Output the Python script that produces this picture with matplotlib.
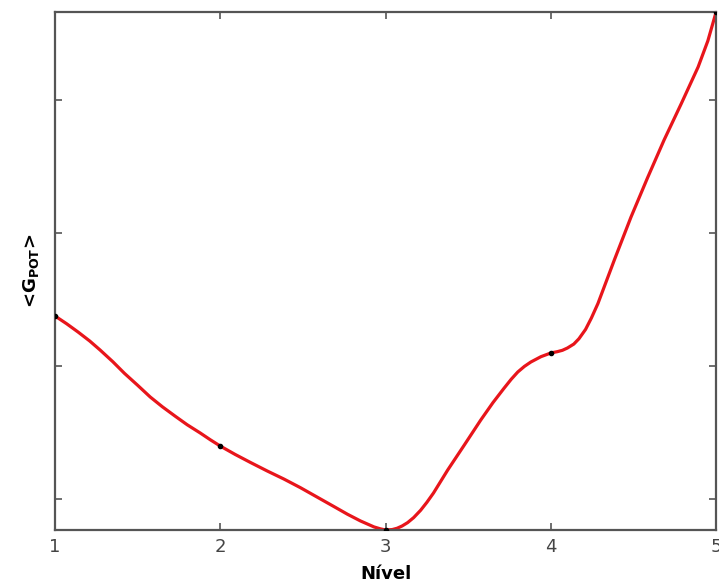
import matplotlib
matplotlib.use("Agg")
import matplotlib.pyplot as plt

# níveis e valores (escala arbitrária, eixo y sem rótulos)
niveis = [1, 2, 3, 4, 5]
g_pot = [2.376, 1.398, 0.767, 2.098, 4.662]

# curva suave
curva_x = [1.0, 1.07, 1.14, 1.21, 1.273, 1.35, 1.42, 1.50, 1.576, 1.65, 1.73, 1.80,
           1.879, 1.94, 2.0, 2.09, 2.182, 2.285, 2.385, 2.485, 2.585, 2.685, 2.77,
           2.848, 2.93, 2.97, 3.0, 3.04, 3.07, 3.10, 3.133, 3.17, 3.212, 3.25, 3.29,
           3.376, 3.476, 3.576, 3.65, 3.715, 3.76, 3.80, 3.84, 3.879, 3.94, 4.0,
           4.04, 4.07, 4.10, 4.139, 4.17, 4.21, 4.245, 4.285, 4.385, 4.485, 4.585,
           4.685, 4.79, 4.891, 4.95, 5.0]
curva_y = [2.376, 2.318, 2.255, 2.188, 2.120, 2.032, 1.945, 1.855, 1.767, 1.693, 1.620, 1.558,
           1.496, 1.445, 1.398, 1.335, 1.275, 1.210, 1.150, 1.085, 1.015, 0.945, 0.885,
           0.835, 0.790, 0.775, 0.767, 0.770, 0.780, 0.797, 0.822, 0.860, 0.915, 0.975, 1.045,
           1.218, 1.405, 1.594, 1.725, 1.830, 1.900, 1.955, 1.997, 2.030, 2.070, 2.098,
           2.108, 2.118, 2.135, 2.165, 2.205, 2.275, 2.360, 2.470, 2.800, 3.120, 3.415,
           3.699, 3.975, 4.248, 4.445, 4.662]

y_ticks = [1, 2, 3, 4]
x_ticks = [1, 2, 3, 4, 5]

fig = plt.figure(figsize=(7.19, 5.84), dpi=100)
ax = fig.add_axes([0.0765, 0.0925, 0.9195, 0.887])

ax.plot(curva_x, curva_y, color="#e8151b", linewidth=2.3, solid_capstyle="round",
        solid_joinstyle="round")
ax.plot(niveis, g_pot, linestyle="none", marker="o", markersize=3, color="black", zorder=3)

ax.set_xlim(1, 5)
ax.set_ylim(0.767, 4.662)
ax.set_xticks(x_ticks)
ax.set_yticks(y_ticks)
ax.set_yticklabels([])
ax.tick_params(direction="in", length=5, width=1.2, color="#555555",
               top=True, right=True, labelsize=13, labelcolor="#444444", pad=6)
for s in ax.spines.values():
    s.set_color("#555555")
    s.set_linewidth(1.6)

ax.set_xlabel("Nível", fontsize=13, fontweight="bold", labelpad=6)
ax.set_ylabel(r"<G$_{\mathregular{POT}}$>", fontsize=13, fontweight="bold", labelpad=4)

fig.savefig("out.png", dpi=100)
